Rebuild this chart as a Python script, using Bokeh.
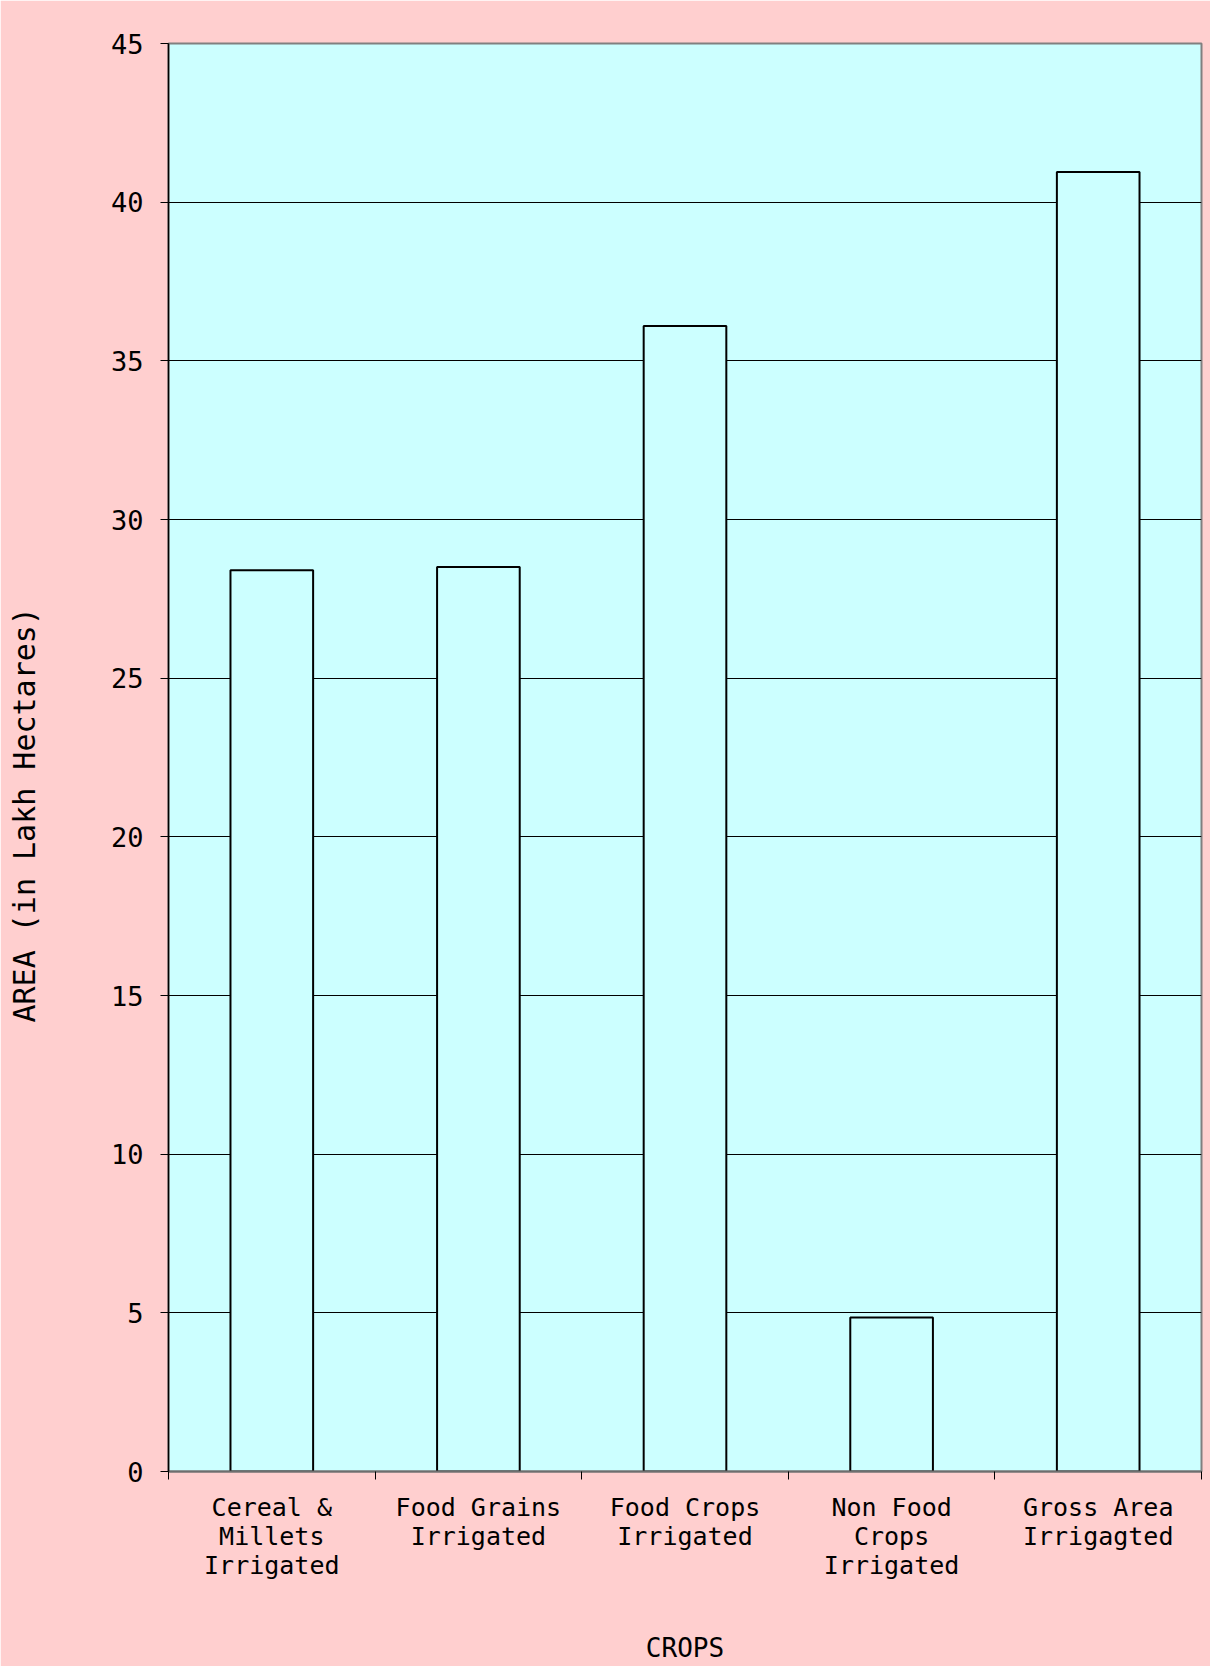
from bokeh.plotting import figure
from bokeh.models import FixedTicker, Range1d, Title
from bokeh.embed import file_html
from bokeh.resources import INLINE

# ---- data ----
categories = [
    "Cereal & Millets Irrigated",
    "Food Grains Irrigated",
    "Food Crops Irrigated",
    "Non Food Crops Irrigated",
    "Gross Area Irrigagted",
]
category_labels = [
    "Cereal &\nMillets\nIrrigated",
    "Food Grains\nIrrigated",
    "Food Crops\nIrrigated",
    "Non Food\nCrops\nIrrigated",
    "Gross Area\nIrrigagted",
]
area_lakh_ha = [28.4, 28.5, 36.1, 4.85, 40.95]
y_ticks = [0, 5, 10, 15, 20, 25, 30, 35, 40, 45]
y_title = "AREA (in Lakh Hectares)"
x_title = "CROPS"

FONT = "DejaVu Sans Mono"

n = len(categories)
xs = list(range(n))
boundaries = [i - 0.5 for i in range(n + 1)]

p = figure(
    width=1210,
    height=1666,
    x_range=Range1d(-0.5, n - 0.5),
    y_range=Range1d(y_ticks[0], y_ticks[-1]),
    output_backend="svg",
    toolbar_location=None,
    min_border_left=168,
    min_border_right=9,
    min_border_top=43,
    min_border_bottom=195,
)

p.background_fill_color = "#CCFFFF"
p.border_fill_color = "#FFCFCF"
p.outline_line_color = "#808080"
p.outline_line_width = 2

p.vbar(x=xs, top=area_lakh_ha, bottom=0, width=0.4,
       fill_color="#CCFFFF", line_color="black", line_width=2)

# x axis
p.xaxis.ticker = FixedTicker(ticks=xs, minor_ticks=boundaries)
p.xaxis.major_label_overrides = {i: lab for i, lab in enumerate(category_labels)}
p.xaxis.major_tick_line_color = None
p.xaxis.major_tick_out = 8
p.xaxis.major_tick_in = 0
p.xaxis.minor_tick_line_color = "black"
p.xaxis.minor_tick_out = 8
p.xaxis.minor_tick_in = 0
p.xaxis.major_label_standoff = 13
p.xaxis.axis_line_color = "#6e6e6e"
p.xaxis.axis_line_width = 2
p.xaxis.major_label_text_font = FONT
p.xaxis.major_label_text_font_size = "25px"
p.xaxis.major_label_text_line_height = 1.0
p.xaxis.major_label_text_color = "black"
p.xaxis.axis_label = x_title
p.xaxis.axis_label_standoff = 50
p.xaxis.axis_label_text_font = FONT
p.xaxis.axis_label_text_font_size = "26px"
p.xaxis.axis_label_text_font_style = "normal"
p.xaxis.axis_label_text_color = "black"

# y axis
p.yaxis.ticker = FixedTicker(ticks=y_ticks)
p.yaxis.major_tick_out = 8
p.yaxis.major_tick_in = 0
p.yaxis.major_tick_line_color = "black"
p.yaxis.minor_tick_line_color = None
p.yaxis.major_label_standoff = 17
p.yaxis.axis_line_color = "black"
p.yaxis.axis_line_width = 1.5
p.yaxis.major_label_text_font = FONT
p.yaxis.major_label_text_font_size = "27px"
p.yaxis.major_label_text_color = "black"

# y title, positioned along the left edge like the original
# (trailing empty lines push the text towards the outer edge)
y_title_model = Title(text=y_title + "\n\n", align="left", offset=449, vertical_align="top",
                      text_font=FONT, text_font_size="30px",
                      text_font_style="normal", text_color="black")
try:
    y_title_model.standoff = -13
except ValueError:
    y_title_model.standoff = 0
p.add_layout(y_title_model, "left")

p.xgrid.grid_line_color = None
p.ygrid.ticker = FixedTicker(ticks=y_ticks)
p.ygrid.grid_line_color = "black"
p.ygrid.grid_line_width = 1

open("out.html", "w").write(file_html(p, INLINE))
